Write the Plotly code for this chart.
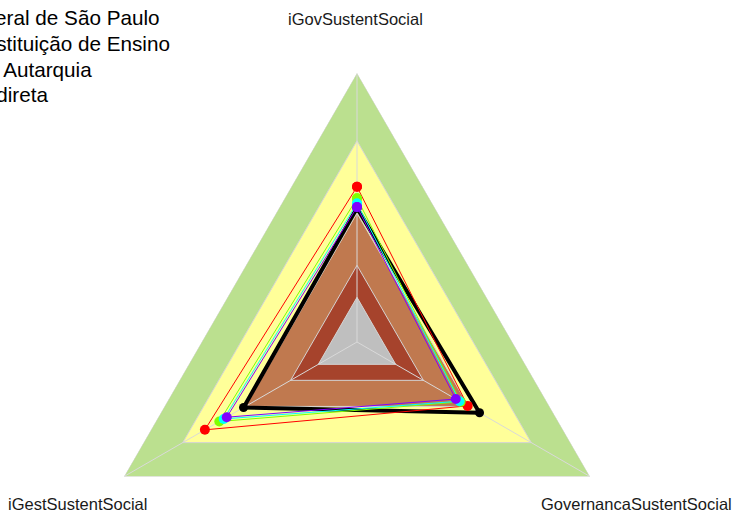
import plotly.graph_objects as go

# axes of the radar (counterclockwise from the top)
categories = ['iGovSustentSocial', 'iGestSustentSocial', 'GovernancaSustentSocial']

# background bands (outer to inner) and their colours
band_levels = [1.0, 0.748, 0.479, 0.285, 0.166]
band_colors = ['#BBE08F', '#FFFF99', '#C0794F', '#A6432C', '#BFBFBF']

# series, one value per axis (black one drawn first, underneath)
series_names = ['Referência', 'Geral de São Paulo', 'Instituição de Ensino', 'Et Autarquia', 'Indireta']
series_values = [
    [0.498, 0.487, 0.526],
    [0.577, 0.653, 0.475],
    [0.534, 0.591, 0.445],
    [0.515, 0.572, 0.440],
    [0.502, 0.559, 0.424],
]
series_colors = ['#000000', '#FF0000', '#80FF00', '#00FFFF', '#8000FF']
line_widths = [4, 1, 1, 1, 1]
marker_sizes = [9, 10, 10, 10, 10]

FONT = 'Liberation Sans, Arial, sans-serif'


def closed(vals):
    return list(vals) + [vals[0]]


fig = go.Figure()

# bands, largest first so the smaller ones sit on top
for level, color in zip(band_levels, band_colors):
    fig.add_trace(go.Scatterpolar(
        r=closed([level] * len(categories)),
        theta=closed(categories),
        mode='lines',
        fill='toself',
        fillcolor=color,
        line=dict(color='#D4D4D4', width=1),
        hoverinfo='skip',
        showlegend=False
    ))

# spokes from centre to each axis
spoke_r, spoke_t = [], []
for cat in categories:
    spoke_r += [0, band_levels[0], None]
    spoke_t += [cat, cat, None]
fig.add_trace(go.Scatterpolar(
    r=spoke_r,
    theta=spoke_t,
    mode='lines',
    line=dict(color='#D9D9D9', width=1),
    hoverinfo='skip',
    showlegend=False
))

for name, vals, color, lw, ms in zip(series_names, series_values, series_colors,
                                     line_widths, marker_sizes):
    fig.add_trace(go.Scatterpolar(
        r=closed(vals),
        theta=closed(categories),
        mode='lines+markers',
        name=name,
        line=dict(color=color, width=lw),
        marker=dict(color=color, size=ms),
        showlegend=False
    ))

# legend text (its symbols sit off the left edge of the page)
annotations = []
legend_y = [1.1023, 1.0549, 1.0074, 0.9600]
for name, y in zip(series_names[1:], legend_y):
    annotations.append(dict(
        text=name, x=-0.2054, y=y, xref='paper', yref='paper',
        xanchor='left', yanchor='middle', showarrow=False,
        font=dict(size=20.7, color='#000000', family=FONT)
    ))

# axis labels
label_pos = [(0.4963, 1.1005), (-0.0186, 0.1998), (1.0186, 0.1998)]
for cat, (x, y) in zip(categories, label_pos):
    annotations.append(dict(
        text=cat, x=x, y=y, xref='paper', yref='paper',
        xanchor='center', yanchor='middle', showarrow=False,
        font=dict(size=16.5, color='#1A1A1A', family=FONT)
    ))

# the full polar circle is taller than the window; only the top 511 px show
fig.update_layout(
    width=733,
    height=611,
    polar=dict(
        gridshape='linear',
        bgcolor='rgba(0,0,0,0)',
        radialaxis=dict(
            range=[0, 1],
            visible=False,
            showgrid=False
        ),
        angularaxis=dict(
            rotation=90,
            direction='counterclockwise',
            showgrid=False,
            showline=False,
            showticklabels=False,
            ticks=''
        )
    ),
    annotations=annotations,
    showlegend=False,
    margin=dict(l=88, r=107, t=73, b=0, autoexpand=False),
    paper_bgcolor='white',
    plot_bgcolor='white',
    font=dict(family=FONT)
)

fig.write_html(
    "out.html",
    config={'displayModeBar': False},
    post_script="document.body.style.margin='0';document.body.style.overflow='hidden';"
)
